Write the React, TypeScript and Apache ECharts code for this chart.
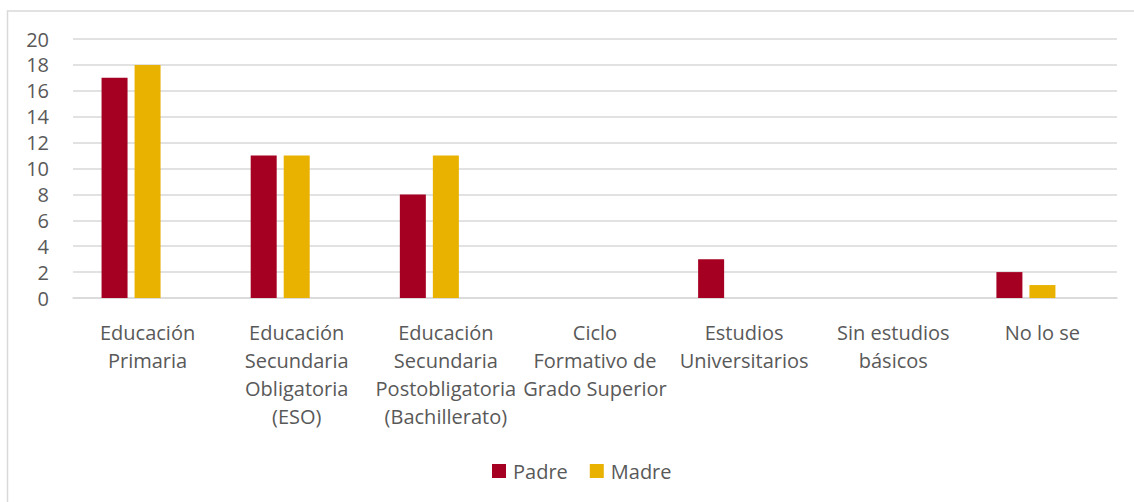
import React, { useEffect, useRef } from "react";
import * as echarts from "echarts";

const categories = [
  "Educación\nPrimaria",
  "Educación\nSecundaria\nObligatoria\n(ESO)",
  "Educación\nSecundaria\nPostobligatoria\n(Bachillerato)",
  "Ciclo\nFormativo de\nGrado Superior",
  "Estudios\nUniversitarios",
  "Sin estudios\nbásicos",
  "No lo se",
];
const padre = [17, 11, 8, 0, 3, 0, 2];
const madre = [18, 11, 11, 0, 0, 0, 1];
const spacer = ["-", "-", "-", "-", "-", "-", "-"];

const FONT = "'Open Sans', 'Noto Sans', sans-serif";
const TEXT = "#595959";

export default function App() {
  const ref = useRef<HTMLDivElement>(null);
  useEffect(() => {
    if (!ref.current) return;
    const chart = echarts.init(ref.current, null, { renderer: "svg" });
    chart.setOption({
      animation: false,
      backgroundColor: "#ffffff",
      textStyle: { fontFamily: FONT },
      graphic: [
        {
          type: "rect",
          shape: { x: 7.5, y: 11, width: 1300, height: 700 },
          style: { fill: "none", stroke: "#d9d9d9", lineWidth: 1.5 },
          silent: true,
        },
      ],
      grid: { left: 73, right: 17, top: 39, bottom: 204, containLabel: false },
      legend: {
        data: ["Padre", "Madre"],
        left: 487,
        top: 456,
        itemWidth: 14,
        itemHeight: 14,
        itemGap: 22,
        icon: "rect",
        textStyle: { color: TEXT, fontSize: 20, fontFamily: FONT, padding: [0, 0, 0, 2] },
      },
      xAxis: {
        type: "category",
        data: categories,
        axisLine: { lineStyle: { color: "#d9d9d9", width: 1.5 } },
        axisTick: { show: false },
        axisLabel: {
          interval: 0,
          color: TEXT,
          fontSize: 20,
          lineHeight: 28,
          margin: 20,
          fontFamily: FONT,
        },
      },
      yAxis: {
        type: "value",
        min: 0,
        max: 20,
        interval: 2,
        axisLine: { show: false },
        axisTick: { show: false },
        splitLine: { lineStyle: { color: "#d9d9d9", width: 1.5 } },
        axisLabel: { color: TEXT, fontSize: 20, margin: 24, fontFamily: FONT },
      },
      series: [
        {
          name: "Padre",
          type: "bar",
          data: padre,
          barWidth: 26,
          barGap: "27%",
          itemStyle: { color: "#a50021" },
        },
        {
          name: "Madre",
          type: "bar",
          data: madre,
          barWidth: 26,
          barGap: "27%",
          itemStyle: { color: "#e9b100" },
        },
        {
          name: "spacer",
          type: "bar",
          data: spacer,
          barWidth: 26,
          barGap: "27%",
          itemStyle: { color: "transparent" },
          silent: true,
        },
      ],
    });
    return () => chart.dispose();
  }, []);
  return (
    <div
      ref={ref}
      style={{ position: "fixed", left: 0, top: 0, width: 1134, height: 502 }}
    />
  );
}
